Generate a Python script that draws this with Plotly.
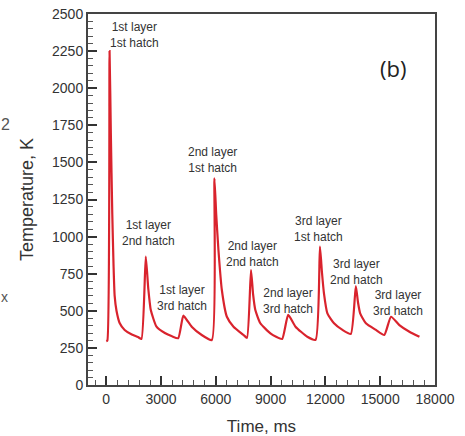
import plotly.graph_objects as go

# Time (ms) and temperature (K)
time_ms = [0, 60, 180, 250, 330, 400, 460, 560, 732, 1007, 1400, 1739, 1926,
           2163, 2300, 2438, 2752, 3209, 3600, 3940,
           4216, 4400, 4678, 5228, 5779,
           5922, 6020, 6142, 6329, 6604, 6967, 7518, 7705,
           7925, 8040, 8162, 8437, 8987, 9300, 9631,
           9961, 10363, 11007, 11464,
           11700, 11810, 11920, 12108, 12471, 12934, 13390,
           13665, 13780, 13902, 14216, 14766, 15223,
           15592, 16048, 16598, 17149]
temp_K = [295, 300, 2250, 1700, 1150, 800, 600, 500, 418, 371, 340, 323, 310,
          865, 650, 505, 393, 350, 328, 315,
          467, 440, 393, 337, 303,
          1393, 1150, 910, 640, 460, 393, 337, 318,
          775, 610, 505, 416, 348, 325, 310,
          472, 393, 325, 305,
          932, 760, 618, 483, 416, 371, 344,
          667, 560, 483, 416, 371, 337,
          460, 404, 359, 325]

# Peak labels: centre time and centre temperature of each two-line label
label_text = ["1st layer<br>1st hatch", "1st layer<br>2nd hatch", "1st layer<br>3rd hatch",
              "2nd layer<br>1st hatch", "2nd layer<br>2nd hatch", "2nd layer<br>3rd hatch",
              "3rd layer<br>1st hatch", "3rd layer<br>2nd hatch", "3rd layer<br>3rd hatch"]
label_x = [1557, 2328, 4172, 5795, 8024, 9978, 11602, 13721, 15949]
label_y = [2356, 1021, 583, 1517, 885, 565, 1051, 763, 555]

x_ticks = [0, 3000, 6000, 9000, 12000, 15000, 18000]
x_tick_text = ["0", "3000", "6000", "9000", "12000", "15000", "18000"]
y_ticks = [0, 250, 500, 750, 1000, 1250, 1500, 1750, 2000, 2250, 2500]

fig = go.Figure()
fig.add_trace(go.Scatter(x=time_ms, y=temp_K, mode="lines",
                         line=dict(color="#d9232d", width=2.2, shape="spline", smoothing=0.5),
                         showlegend=False, hoverinfo="skip"))

font_main = "Liberation Sans, Arial, sans-serif"
for txt, x, y in zip(label_text, label_x, label_y):
    fig.add_annotation(x=x, y=y, xref="x", yref="y", text=txt,
                       showarrow=False, xanchor="center", yanchor="middle",
                       font=dict(family=font_main, size=12, color="#333"))
fig.add_annotation(x=15702, y=2136, xref="x", yref="y", text="(b)",
                   showarrow=False, xanchor="center", yanchor="middle",
                   font=dict(family="Open Sans, Liberation Sans, sans-serif",
                             size=22, color="#222"))
# fragments of a neighbouring panel's labels visible at the left edge
fig.add_annotation(x=-0.2536, y=0.7035, xref="paper", yref="paper", text="2",
                   showarrow=False, xanchor="left", yanchor="middle", borderpad=0,
                   font=dict(family=font_main, size=16, color="#555"))
fig.add_annotation(x=-0.2536, y=0.237, xref="paper", yref="paper", text="x",
                   showarrow=False, xanchor="left", yanchor="middle", borderpad=0,
                   font=dict(family=font_main, size=14, color="#555"))

fig.update_layout(
    width=465, height=436,
    margin=dict(l=88, r=30, t=14, b=51),
    paper_bgcolor="white", plot_bgcolor="white",
    font=dict(family=font_main, color="#333"),
)

fig.update_xaxes(range=[-1000, 18000], tickvals=x_ticks, ticktext=x_tick_text,
                 ticks="inside", ticklen=9, tickwidth=2, tickcolor="#333",
                 minor=dict(dtick=600, tick0=0, ticks="inside", ticklen=5,
                            tickwidth=1, tickcolor="#555"),
                 showline=True, linewidth=2, linecolor="#444", mirror=True,
                 showgrid=False, zeroline=False, automargin=False,
                 tickfont=dict(size=14, color="#333"),
                 title=dict(text="Time, ms", font=dict(size=17, color="#333"),
                            standoff=14))
fig.update_yaxes(range=[0, 2500], tickvals=y_ticks,
                 ticks="inside", ticklen=9, tickwidth=2, tickcolor="#333",
                 minor=dict(dtick=50, tick0=0, ticks="inside", ticklen=5,
                            tickwidth=1, tickcolor="#555"),
                 showline=True, linewidth=2, linecolor="#444", mirror=True,
                 showgrid=False, zeroline=False, automargin=False,
                 tickfont=dict(size=14, color="#333"),
                 title=dict(text="Temperature, K", font=dict(size=18, color="#333"),
                            standoff=14))

fig.write_html("out.html", config={"displayModeBar": False},
               post_script="document.body.style.margin='0';document.body.style.overflow='hidden';")
